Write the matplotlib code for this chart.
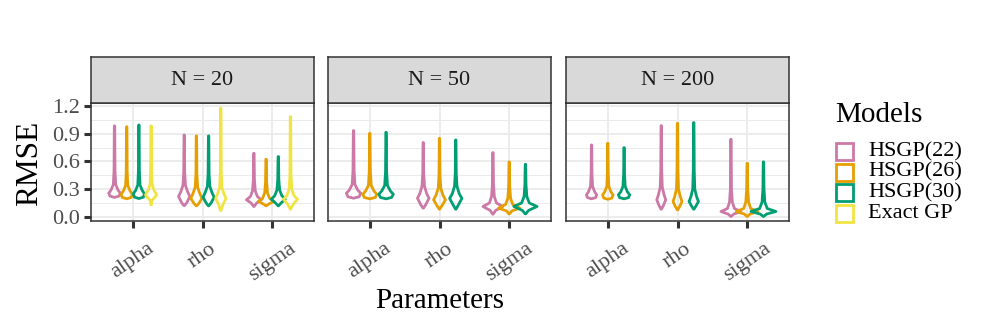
import matplotlib
matplotlib.use("Agg")
import matplotlib.pyplot as plt
from matplotlib.patches import Rectangle
from matplotlib.ticker import MultipleLocator

plt.rcParams["font.family"] = ["Liberation Serif", "DejaVu Serif"]

models = ["HSGP(22)", "HSGP(26)", "HSGP(30)", "Exact GP"]
colors = ["#CC79A7", "#E69F00", "#009E73", "#F0E442"]
params = ["alpha", "rho", "sigma"]
facets = ["N = 20", "N = 50", "N = 200"]
y_ticks = [0.0, 0.3, 0.6, 0.9, 1.2]

# each violin: (RMSE knots from lower tip to upper tip, half-width at each knot)
n20_alpha = [
    ([.21, .225, .256, .29, .35, .50, .984], [0, .066, .083, .05, .017, .007, .003]),
    ([.195, .21, .245, .28, .34, .49, .975], [0, .064, .08, .048, .016, .007, .003]),
    ([.198, .213, .25, .285, .345, .50, .994], [0, .064, .08, .048, .016, .007, .003]),
    ([.13, .175, .236, .30, .36, .50, .984], [.003, .01, .08, .035, .014, .007, .003]),
]
n20_rho = [
    ([.122, .15, .22, .27, .34, .48, .886], [.003, .035, .081, .05, .018, .007, .003]),
    ([.119, .145, .20, .25, .32, .46, .876], [.003, .035, .08, .05, .018, .007, .003]),
    ([.119, .15, .212, .26, .33, .47, .876], [.003, .035, .08, .05, .018, .007, .003]),
    ([.068, .13, .20, .25, .32, .48, 1.175], [.003, .03, .074, .045, .016, .007, .003]),
]
n20_sigma = [
    ([.112, .15, .184, .22, .28, .40, .688], [.003, .04, .107, .05, .02, .008, .003]),
    ([.119, .14, .166, .20, .26, .38, .623], [.003, .04, .114, .05, .02, .008, .003]),
    ([.119, .15, .19, .23, .29, .40, .652], [.003, .04, .10, .05, .02, .008, .003]),
    ([.083, .13, .19, .23, .30, .45, 1.084], [.003, .035, .10, .05, .02, .008, .003]),
]
n50_alpha = [
    ([.202, .217, .256, .29, .35, .50, .933], [0, .08, .103, .06, .02, .008, .003]),
    ([.195, .21, .245, .28, .34, .49, .904], [0, .08, .10, .06, .02, .008, .003]),
    ([.195, .21, .245, .28, .34, .49, .915], [0, .08, .104, .062, .02, .008, .003]),
]
n50_rho = [
    ([.094, .13, .202, .25, .33, .47, .804], [.003, .035, .083, .05, .018, .007, .003]),
    ([.083, .12, .184, .235, .31, .46, .85], [.003, .035, .085, .05, .018, .007, .003]),
    ([.083, .125, .20, .25, .33, .47, .832], [.003, .035, .088, .05, .018, .007, .003]),
]
n50_sigma = [
    ([.029, .07, .112, .15, .22, .35, .695], [.003, .04, .143, .05, .02, .008, .003]),
    ([.032, .065, .094, .135, .20, .33, .595], [.003, .04, .154, .05, .02, .008, .003]),
    ([.032, .07, .112, .15, .22, .35, .569], [.003, .045, .167, .055, .02, .008, .003]),
]
n200_alpha = [
    ([.195, .208, .238, .27, .33, .47, .778], [0, .058, .074, .045, .015, .006, .003]),
    ([.19, .203, .238, .27, .33, .47, .796], [0, .058, .075, .045, .015, .006, .003]),
    ([.195, .208, .238, .27, .33, .47, .749], [0, .063, .081, .048, .016, .006, .003]),
]
n200_rho = [
    ([.083, .12, .184, .24, .32, .50, .987], [.003, .03, .064, .04, .015, .007, .003]),
    ([.076, .11, .166, .22, .30, .50, 1.012], [.003, .03, .064, .04, .015, .007, .003]),
    ([.083, .115, .166, .22, .30, .50, 1.02], [.003, .03, .067, .04, .015, .007, .003]),
]
n200_sigma = [
    ([.004, .03, .058, .09, .16, .30, .84], [.003, .04, .143, .05, .02, .008, .003]),
    ([.004, .03, .058, .09, .16, .30, .58], [.003, .04, .157, .05, .02, .008, .003]),
    ([.004, .03, .058, .09, .16, .30, .595], [.003, .045, .179, .055, .02, .008, .003]),
]

panel_data = [
    [n20_alpha, n20_rho, n20_sigma],
    [n50_alpha, n50_rho, n50_sigma],
    [n200_alpha, n200_rho, n200_sigma],
]

W, H = 997, 332
fig = plt.figure(figsize=(W / 100, H / 100), dpi=100)


def px_axes(x0, y0, x1, y1):
    return fig.add_axes([x0 / W, 1 - y1 / H, (x1 - x0) / W, (y1 - y0) / H])


panel_x = [(91, 314), (328, 551), (566, 789)]
dark = "#333333"
small = 16
big = 21

for p, (x0, x1) in enumerate(panel_x):
    ax = px_axes(x0, 103, x1, 221)
    ax.set_xlim(-0.6, 2.6)
    ax.set_ylim(-0.045, 1.232)
    ax.yaxis.set_major_locator(MultipleLocator(0.3))
    ax.yaxis.set_minor_locator(MultipleLocator(0.15))
    ax.set_xticks(range(len(params)))
    ax.set_xticklabels(params, rotation=35, ha="center", va="top")
    ax.grid(which="major", color="#EBEBEB", lw=1.3)
    ax.grid(which="minor", axis="y", color="#EBEBEB", lw=0.7)
    ax.set_axisbelow(True)
    ax.tick_params(which="major", length=5, width=2.2, color=dark,
                   labelcolor="#4D4D4D", labelsize=small, pad=3)
    ax.tick_params(axis="x", pad=8)
    ax.tick_params(which="minor", length=0)
    for s in ax.spines.values():
        s.set_color(dark)
        s.set_linewidth(1.1)
    if p == 0:
        ax.set_yticks(y_ticks)
        ax.set_yticklabels([f"{v:.1f}" for v in y_ticks])
    else:
        ax.tick_params(axis="y", which="both", left=False, labelleft=False)

    for j, violins in enumerate(panel_data[p]):
        k = len(violins)
        step = 0.7 / k
        for i, (ys, ws) in enumerate(violins):
            xc = j + (i - (k - 1) / 2) * step
            xs = [xc - w for w in ws] + [xc + w for w in ws[::-1]]
            yy = list(ys) + list(ys[::-1])
            ax.fill(xs, yy, facecolor="none", edgecolor=colors[i], lw=2.0,
                    joinstyle="round")

    sax = px_axes(x0, 57, x1, 103)
    sax.set_facecolor("#D9D9D9")
    sax.set_xticks([])
    sax.set_yticks([])
    for s in sax.spines.values():
        s.set_color(dark)
        s.set_linewidth(1.1)
    sax.text(0.5, 0.5, facets[p], ha="center", va="center", fontsize=small,
             color="#1A1A1A", transform=sax.transAxes)

fig.text(30 / W, 1 - 163 / H, "RMSE", rotation=90, ha="center", va="center",
         fontsize=22.5)
fig.text(440 / W, 1 - 301 / H, "Parameters", ha="center", va="center",
         fontsize=big)

# legend drawn by hand so the key spacing matches the compact ggplot layout
fig.text(835 / W, 1 - 115 / H, "Models", ha="left", va="center", fontsize=big)
for i, (m, c) in enumerate(zip(models, colors)):
    top = 143 + i * 20.5
    fig.patches.append(Rectangle((836 / W, 1 - (top + 17) / H), 17 / W, 17 / H,
                                 transform=fig.transFigure, facecolor="white",
                                 edgecolor=c, lw=2))
    fig.text(868 / W, 1 - (top + 8.5) / H, m, ha="left", va="center",
             fontsize=small)

fig.savefig("out.png", dpi=100)
